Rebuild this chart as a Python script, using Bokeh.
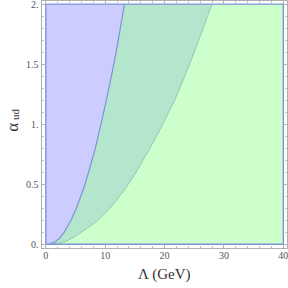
from bokeh.plotting import figure
from bokeh.models import Range1d, FixedTicker, LinearAxis, CustomJSTickFormatter, Label
from bokeh.embed import file_html
from bokeh.resources import INLINE
import math

# ---- data ----
alpha = [0, 0.02, 0.05, 0.1, 0.2, 0.3, 0.4, 0.5, 0.6, 0.8, 1.0, 1.2, 1.4, 1.6, 1.8, 2.0]
lam_blue = [0.5, 1.6, 2.3, 3.1, 4.25, 5.15, 5.9, 6.6, 7.2, 8.35, 9.3, 10.2, 11.05, 11.85, 12.55, 13.25]
lam_green = [0.8, 3.2, 4.4, 6.0, 8.8, 10.8, 12.45, 13.9, 15.2, 17.55, 19.7, 21.7, 23.4, 25.0, 26.5, 28.0]
lam_min, lam_max = 0, 40
alpha_min, alpha_max = 0, 2
x_ticks = [0, 10, 20, 30, 40]
y_ticks = [0, 0.5, 1.0, 1.5, 2.0]

BLUE_FILL = "#ccccff"
TEAL_FILL = "#b3e6cc"
GREEN_FILL = "#ccffcc"
BLUE_LINE = "#7f93d8"
TEAL_LINE = "#8ecbb2"
FRAME = "#b0b0b0"
TICK_TXT = "#555555"
LAB_TXT = "#333333"
FONT = "Liberation Serif"

p = figure(width=297, height=288, output_backend="svg", toolbar_location=None,
           x_range=Range1d(-0.72, 40.7), y_range=Range1d(-0.035, 2.03),
           min_border_left=41, min_border_right=1, min_border_top=0, min_border_bottom=40)
p.styles = {"margin-left": "-9px"}
p.background_fill_color = "white"
p.border_fill_color = "white"
p.grid.visible = False
p.outline_line_color = FRAME
p.outline_line_width = 1

# full rectangle (green)
p.quad(left=lam_min, right=lam_max, bottom=alpha_min, top=alpha_max,
       fill_color=GREEN_FILL, line_color=None)
# blue region
p.harea(x1=[lam_min] * len(alpha), x2=lam_blue, y=alpha, fill_color=BLUE_FILL)
# teal overlap region
p.harea(x1=lam_blue, x2=lam_green, y=alpha, fill_color=TEAL_FILL)
# boundary curves
p.line(lam_green, alpha, line_color=TEAL_LINE, line_width=1)
p.line(lam_blue, alpha, line_color=BLUE_LINE, line_width=1.2)
# rectangle border
p.quad(left=lam_min, right=lam_max, bottom=alpha_min, top=alpha_max,
       fill_color=None, line_color=BLUE_LINE, line_width=1.4)

xminor = [v * 2 for v in range(0, 21)]
yminor = [v / 10 for v in range(0, 21)]
xt = FixedTicker(ticks=x_ticks, minor_ticks=xminor)
yt = FixedTicker(ticks=y_ticks, minor_ticks=yminor)

yfmt = CustomJSTickFormatter(code="""
return (Math.abs(tick - Math.round(tick)) < 1e-9) ? Math.round(tick).toFixed(0) + '.' : tick.toFixed(1);
""")
blank = CustomJSTickFormatter(code="return '';")


def style_axis(ax, labels=True):
    ax.axis_line_color = FRAME
    ax.major_tick_line_color = FRAME
    ax.minor_tick_line_color = FRAME
    ax.major_tick_in = 4
    ax.major_tick_out = 0
    ax.minor_tick_in = 2
    ax.minor_tick_out = 0
    ax.major_label_text_font = FONT
    ax.major_label_text_font_size = "10px" if labels else "1px"
    ax.major_label_text_color = TICK_TXT
    ax.major_label_standoff = 3 if labels else 0
    if not labels:
        ax.formatter = blank


xa = p.xaxis[0]
xa.ticker = xt
style_axis(xa)
xa.axis_label = "Λ (GeV)"
xa.axis_label_text_font = FONT
xa.axis_label_text_font_style = "normal"
xa.axis_label_text_font_size = "15px"
xa.axis_label_text_color = LAB_TXT
xa.axis_label_standoff = 4

ya = p.yaxis[0]
ya.ticker = yt
ya.formatter = yfmt
style_axis(ya)
ya.axis_label = None

top = LinearAxis(ticker=FixedTicker(ticks=x_ticks, minor_ticks=xminor))
style_axis(top, labels=False)
p.add_layout(top, "above")
right = LinearAxis(ticker=FixedTicker(ticks=y_ticks, minor_ticks=yminor))
style_axis(right, labels=False)
p.add_layout(right, "right")

# y axis label: alpha with subscript "ud" (placed in the left side panel so it is not clipped)
p.add_layout(Label(x=-5.65, y=0.975, text="α", angle=math.pi / 2,
                   text_font=FONT, text_font_size="17px", text_color=LAB_TXT,
                   text_align="center", text_baseline="middle"), "left")
p.add_layout(Label(x=-5.2, y=1.08, text="ud", angle=math.pi / 2,
                   text_font=FONT, text_font_size="11px", text_color=LAB_TXT,
                   text_align="center", text_baseline="middle"), "left")

open("out.html", "w").write(file_html(p, INLINE))
